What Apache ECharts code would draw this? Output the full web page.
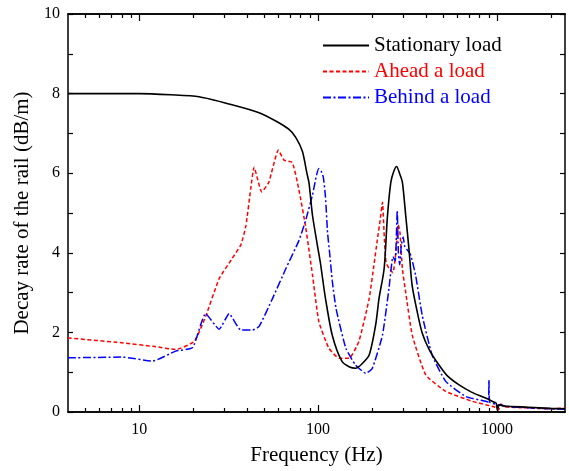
<!DOCTYPE html>
<html>
<head>
<meta charset="utf-8">
<script src="https://cdn.jsdelivr.net/npm/echarts@6/dist/echarts.min.js"></script>
<style>
html,body{margin:0;padding:0;background:#fff;}
#chart{width:569px;height:471px;}
</style>
</head>
<body>
<div id="chart"></div>
<script>
// ---- data ----
const seriesNames = ['Stationary load', 'Ahead a load', 'Behind a load'];

const stationaryHz = [4, 10, 15, 21.6, 33, 46.8, 58, 68.8, 75, 81.7, 86.6, 89, 93, 99, 103, 106, 110, 120, 136, 150, 162, 175, 193, 210, 219, 234, 244, 255, 265, 275, 285, 296, 309, 322, 335, 355, 381, 420, 474, 530, 614, 720, 865, 960, 990, 1005, 1030, 1100, 1500, 2000, 2400];
const stationaryDb = [8.0, 8.0, 7.97, 7.92, 7.72, 7.52, 7.31, 7.1, 6.9, 6.55, 6.0, 5.75, 4.95, 4.2, 3.75, 3.35, 2.85, 1.93, 1.27, 1.13, 1.1, 1.2, 1.43, 2.2, 2.85, 3.6, 4.9, 5.77, 6.05, 6.17, 6.0, 5.77, 4.93, 4.1, 3.2, 2.6, 2.0, 1.55, 1.18, 0.9, 0.68, 0.5, 0.35, 0.25, 0.22, 0.05, 0.18, 0.15, 0.12, 0.09, 0.08];

const aheadHz = [4, 8, 12, 16, 20.3, 23.5, 28, 33, 37, 39.5, 42, 43.9, 48.4, 53, 60, 64.5, 71.8, 78, 85, 93, 101, 115, 131, 149, 169, 193, 205, 214, 222, 229, 235, 240, 250, 262, 272, 281, 287, 296, 309, 336, 400, 517, 727, 977, 1020, 1050, 1100, 1500, 2000, 2400];
const aheadDb = [1.86, 1.74, 1.65, 1.57, 1.77, 2.4, 3.35, 3.85, 4.2, 4.68, 5.6, 6.15, 5.53, 5.77, 6.58, 6.33, 6.27, 5.6, 4.68, 3.45, 2.27, 1.6, 1.35, 1.35, 1.77, 2.85, 3.68, 4.3, 4.8, 5.27, 4.3, 3.75, 3.6, 3.5, 4.0, 4.7, 4.5, 3.6, 3.0, 1.93, 0.93, 0.52, 0.27, 0.12, 0.05, 0.2, 0.13, 0.1, 0.08, 0.1];

const behindHz = [4, 8, 11.9, 16, 19.9, 23.5, 28, 31.8, 37, 43, 46.8, 55.6, 66, 78, 85, 93, 98, 101, 104, 107, 110, 113, 116, 120, 126, 143, 162, 185, 201, 229, 249, 262, 270, 277, 281, 286, 292, 299, 305, 312, 329, 351, 382, 434, 517, 668, 865, 895, 902, 910, 1020, 1200, 1600, 2000, 2400];
const behindDb = [1.36, 1.38, 1.28, 1.53, 1.62, 2.47, 2.08, 2.47, 2.06, 2.06, 2.15, 2.85, 3.6, 4.3, 4.8, 5.45, 5.95, 6.12, 6.05, 5.9, 5.4, 4.5, 4.0, 3.3, 2.6, 1.6, 1.18, 0.97, 1.1, 1.93, 3.1, 3.9, 3.8, 5.06, 4.0, 3.7, 4.2, 4.4, 4.15, 4.1, 3.95, 3.43, 2.43, 1.43, 0.77, 0.39, 0.27, 0.25, 0.8, 0.25, 0.18, 0.13, 0.1, 0.08, 0.07];

const xMajorTicks = [10, 100, 1000];
const xMinorTicks = [5, 6, 7, 8, 9, 20, 30, 40, 50, 60, 70, 80, 90, 200, 300, 400, 500, 600, 700, 800, 900, 2000];

// ---- chart ----
const FONT = '"Liberation Serif", "Times New Roman", serif';
const zip = (a, b) => a.map((v, i) => [v, b[i]]);

const xBase = {
  type: 'log', logBase: 10, min: 4, max: 2400, gridIndex: 0,
  splitLine: { show: false }, minorSplitLine: { show: false },
  axisLine: { show: true, lineStyle: { color: '#000', width: 1.5 } }
};

const chart = echarts.init(document.getElementById('chart'), null, { renderer: 'canvas' });
chart.setOption({
  animation: false,
  backgroundColor: '#fff',
  grid: { left: 68, right: 4, top: 14, bottom: 57, containLabel: false },
  legend: {
    orient: 'vertical', left: 322, top: 35, padding: 0,
    itemWidth: 46, itemHeight: 14, itemGap: 5,
    itemStyle: { opacity: 0 },
    textStyle: { fontFamily: FONT, fontSize: 21 },
    data: [
      { name: seriesNames[0], textStyle: { color: '#000' } },
      { name: seriesNames[1], textStyle: { color: '#ff0000' } },
      { name: seriesNames[2], textStyle: { color: '#0000ff' } }
    ]
  },
  xAxis: [
    Object.assign({}, xBase, {
      position: 'bottom',
      name: 'Frequency (Hz)', nameLocation: 'middle', nameGap: 33,
      nameTextStyle: { fontFamily: FONT, fontSize: 21, color: '#000' },
      axisTick: { show: true, inside: true, length: 7, lineStyle: { color: '#000', width: 1.2 }, customValues: xMajorTicks },
      axisLabel: { show: true, margin: 10, fontFamily: FONT, fontSize: 16, color: '#000', customValues: xMajorTicks,
        formatter: v => String(Math.round(v)) }
    }),
    Object.assign({}, xBase, {
      position: 'bottom',
      axisTick: { show: true, inside: true, length: 4, lineStyle: { color: '#000', width: 1.2 }, customValues: xMinorTicks },
      axisLabel: { show: false }
    }),
    Object.assign({}, xBase, {
      position: 'top',
      axisTick: { show: true, inside: true, length: 7, lineStyle: { color: '#000', width: 1.2 }, customValues: xMajorTicks },
      axisLabel: { show: false }
    }),
    Object.assign({}, xBase, {
      position: 'top',
      axisTick: { show: true, inside: true, length: 4, lineStyle: { color: '#000', width: 1.2 }, customValues: xMinorTicks },
      axisLabel: { show: false }
    })
  ],
  yAxis: [
    {
      type: 'value', min: 0, max: 10, interval: 2, position: 'left',
      name: 'Decay rate of the rail (dB/m)', nameLocation: 'middle', nameGap: 30,
      nameTextStyle: { fontFamily: FONT, fontSize: 21, color: '#000' },
      axisLine: { show: true, lineStyle: { color: '#000', width: 1.5 } },
      axisTick: { show: true, inside: true, length: 5, lineStyle: { color: '#000', width: 1.2 } },
      minorTick: { show: true, splitNumber: 2, length: 5, lineStyle: { color: '#000', width: 1.2 } },
      axisLabel: { margin: 8, fontFamily: FONT, fontSize: 16, color: '#000' },
      splitLine: { show: false }
    },
    {
      type: 'value', min: 0, max: 10, interval: 2, position: 'right',
      axisLine: { show: true, lineStyle: { color: '#000', width: 1.5 } },
      axisTick: { show: true, inside: true, length: 5, lineStyle: { color: '#000', width: 1.2 } },
      minorTick: { show: true, splitNumber: 2, length: 5, lineStyle: { color: '#000', width: 1.2 } },
      axisLabel: { show: false },
      splitLine: { show: false }
    }
  ],
  series: [
    {
      name: seriesNames[0], type: 'line', xAxisIndex: 0, yAxisIndex: 0,
      data: zip(stationaryHz, stationaryDb), showSymbol: false, symbol: 'none',
      smooth: 0.25, color: '#000',
      lineStyle: { color: '#000', width: 1.6, type: 'solid' }, z: 3
    },
    {
      name: seriesNames[1], type: 'line', xAxisIndex: 0, yAxisIndex: 0,
      data: zip(aheadHz, aheadDb), showSymbol: false, symbol: 'none',
      smooth: 0.15, color: '#ff0000',
      lineStyle: { color: '#ff0000', width: 1.5, type: [4, 2.5] }, z: 2
    },
    {
      name: seriesNames[2], type: 'line', xAxisIndex: 0, yAxisIndex: 0,
      data: zip(behindHz, behindDb), showSymbol: false, symbol: 'none',
      smooth: 0.15, color: '#0000ff',
      lineStyle: { color: '#0000ff', width: 1.5, type: [8, 2.5, 2, 2.5] }, z: 2
    }
  ]
});
</script>
</body>
</html>
